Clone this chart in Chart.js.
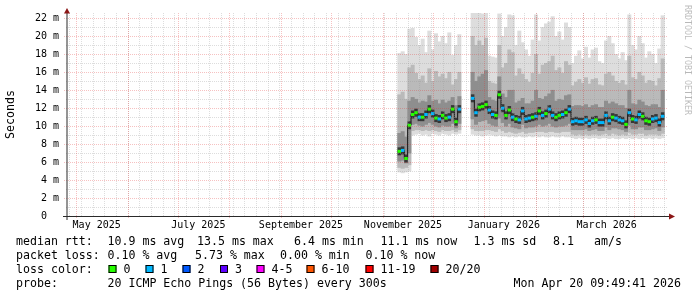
<!DOCTYPE html>
<html>
<head>
<meta charset="utf-8">
<script src="https://cdn.jsdelivr.net/npm/chart.js@4.4.1/dist/chart.umd.min.js"></script>
<style>
  html, body { margin: 0; padding: 0; background: #fff; }
  canvas { display: block; }
</style>
</head>
<body>
<canvas id="smoke" width="697" height="297"></canvas>
<script>
// x values are days counted from 1 May 2025, one sample every two days
const sampleDays = [
  194, 196, 198, 200, 202, 204, 206, 208, 210, 212,
  214, 216, 218, 220, 222, 224, 226, 228, 230, 232,
  234, 236, 238, 240, 242, 244, 246, 248, 250, 252,
  254, 256, 258, 260, 262, 264, 266, 268, 270, 272,
  274, 276, 278, 280, 282, 284, 286, 288, 290, 292,
  294, 296, 298, 300, 302, 304, 306, 308, 310, 312,
  314, 316, 318, 320, 322, 324, 326, 328, 330, 332,
  334, 336, 338, 340, 342, 344, 346, 348, 350, 352
];

// median rtt in ms
const medianRtt = [
  7.2, 7.3, 6.4, 10.1, 11.3, 11.5, 11.0, 11.0, 11.3, 11.9,
  11.4, 10.9, 10.8, 11.2, 10.9, 11.0, 11.9, 10.5, 11.9, null,
  null, null, 13.1, 11.5, 12.1, 12.2, 12.4, 11.8, 11.3, 11.2,
  13.5, 12.0, 11.2, 11.8, 11.0, 10.8, 10.7, 11.7, 10.8, 10.9,
  11.0, 11.1, 11.7, 11.2, 11.4, 11.9, 11.2, 11.0, 11.2, 11.3,
  11.5, 11.9, 10.5, 10.6, 10.5, 10.5, 10.7, 10.3, 10.6, 10.7,
  10.4, 10.4, 11.2, 10.6, 11.0, 10.9, 10.7, 10.6, 10.2, 11.5,
  10.8, 10.7, 11.3, 11.1, 10.6, 10.5, 10.8, 10.9, 10.4, 11.1
];

// lost pings out of 20
const lostPings = [
  0, 1, 0, 0, 0, 0, 1, 0, 1, 0,
  1, 0, 1, 0, 0, 1, 0, 0, 1, null,
  null, null, 1, 1, 0, 0, 0, 1, 1, 0,
  0, 1, 0, 0, 1, 0, 1, 1, 1, 1,
  0, 1, 0, 1, 0, 1, 1, 0, 0, 1,
  0, 1, 1, 1, 1, 1, 1, 1, 1, 0,
  1, 1, 1, 1, 0, 1, 1, 1, 0, 1,
  0, 1, 1, 0, 0, 0, 1, 1, 1, 1
];

// smoke: spread of the 20 pings (ms)
const rttMin = [
  4.9, 4.8, 4.9, 5.0, 9.0, 9.1, 9.2, 9.0, 9.1, 8.9,
  9.2, 9.1, 9.0, 9.2, 9.1, 9.0, 9.2, 9.1, 9.2, null,
  null, null, 9.1, 9.0, 9.0, 8.9, 9.0, 9.1, 9.0, 8.9,
  9.0, 8.9, 8.9, 8.8, 8.9, 8.8, 8.9, 8.8, 8.8, 8.9,
  8.8, 8.9, 8.8, 8.9, 8.8, 8.8, 8.9, 8.8, 8.8, 8.9,
  8.8, 8.8, 8.7, 8.6, 8.7, 8.6, 8.7, 8.6, 8.7, 8.7,
  8.6, 8.7, 8.7, 8.6, 8.7, 8.6, 8.6, 8.7, 8.6, 8.7,
  8.6, 8.7, 8.6, 8.7, 8.6, 8.7, 8.6, 8.7, 8.6, 8.7
];
const rttP10 = [
  5.4, 5.3, 5.4, 5.7, 9.5, 9.6, 9.6, 9.5, 9.6, 9.5,
  9.6, 9.5, 9.4, 9.6, 9.5, 9.5, 9.6, 9.4, 9.6, null,
  null, null, 9.7, 9.5, 9.5, 9.5, 9.6, 9.6, 9.5, 9.4,
  9.7, 9.5, 9.3, 9.4, 9.3, 9.2, 9.3, 9.4, 9.2, 9.3,
  9.3, 9.4, 9.4, 9.4, 9.3, 9.4, 9.4, 9.3, 9.3, 9.4,
  9.4, 9.4, 9.1, 9.0, 9.1, 9.0, 9.1, 9.0, 9.1, 9.1,
  9.0, 9.1, 9.2, 9.0, 9.2, 9.1, 9.0, 9.1, 9.0, 9.3,
  9.1, 9.1, 9.2, 9.2, 9.0, 9.1, 9.1, 9.1, 9.0, 9.2
];
const rttP25 = [
  6.1, 6.2, 5.9, 7.0, 10.2, 10.3, 10.1, 10.0, 10.2, 10.4,
  10.2, 10.0, 9.9, 10.1, 10.0, 10.0, 10.3, 9.8, 10.3, null,
  null, null, 10.8, 10.2, 10.5, 10.6, 10.7, 10.3, 10.1, 10.0,
  10.9, 10.4, 10.0, 10.3, 9.9, 9.8, 9.7, 10.2, 9.8, 9.9,
  9.9, 10.0, 10.2, 10.0, 10.1, 10.3, 10.0, 9.9, 10.0, 10.0,
  10.1, 10.3, 9.6, 9.6, 9.6, 9.6, 9.7, 9.5, 9.6, 9.7,
  9.5, 9.5, 9.9, 9.6, 9.8, 9.8, 9.7, 9.6, 9.4, 10.1,
  9.7, 9.7, 9.9, 9.9, 9.6, 9.6, 9.7, 9.8, 9.5, 9.9
];
const rttP75 = [
  9.2, 9.4, 8.8, 12.8, 13.2, 13.0, 12.6, 12.8, 12.7, 13.4,
  12.8, 12.9, 12.5, 12.9, 12.6, 12.8, 13.2, 12.3, 13.3, null,
  null, null, 16.0, 15.0, 15.5, 15.8, 16.2, 13.2, 12.9, 12.8,
  15.5, 13.6, 13.2, 14.0, 14.0, 12.6, 12.8, 13.1, 12.5, 12.5,
  12.8, 14.0, 13.1, 13.0, 13.3, 13.6, 14.0, 12.8, 13.0, 12.9,
  13.4, 13.5, 12.2, 12.3, 12.3, 12.2, 12.4, 12.1, 12.3, 12.4,
  12.1, 12.1, 12.8, 12.5, 12.7, 12.5, 12.3, 12.3, 12.0, 14.0,
  12.5, 12.4, 12.9, 12.7, 12.3, 12.2, 12.4, 12.4, 12.1, 14.0
];
const rttP90 = [
  13.5, 13.8, 13.0, 16.5, 16.8, 15.9, 15.2, 15.6, 14.8, 16.4,
  15.0, 16.1, 15.5, 15.8, 15.3, 16.0, 14.6, 15.2, 16.0, null,
  null, null, 20.0, 19.0, 19.5, 19.0, 19.8, 15.0, 14.8, 14.7,
  19.0, 16.5, 17.0, 18.5, 18.2, 15.6, 16.4, 15.8, 15.2, 14.9,
  15.9, 18.0, 15.8, 16.8, 17.0, 17.2, 17.8, 16.2, 16.5, 15.9,
  17.2, 16.8, 14.5, 14.9, 15.2, 14.8, 15.4, 14.7, 15.2, 15.3,
  14.6, 14.5, 15.8, 16.0, 15.6, 15.0, 14.8, 15.1, 14.6, 17.8,
  15.4, 15.2, 16.0, 15.6, 14.8, 15.1, 15.0, 14.5, 15.3, 17.5
];
const rttMax = [
  18.1, 18.3, 18.0, 20.8, 20.9, 19.9, 19.0, 19.7, 18.2, 20.6,
  18.5, 20.3, 19.4, 20.0, 19.2, 20.4, 17.9, 19.0, 20.2, null,
  null, null, 23.0, 23.0, 23.0, 22.5, 23.0, 17.8, 17.7, 17.6,
  22.5, 20.0, 21.0, 22.4, 22.3, 19.0, 20.6, 19.3, 18.5, 17.8,
  19.6, 22.4, 19.5, 21.0, 21.4, 21.6, 22.2, 20.0, 20.5, 19.6,
  21.5, 21.0, 17.0, 17.8, 18.4, 17.5, 18.8, 17.6, 18.5, 18.7,
  17.2, 17.0, 19.5, 20.0, 19.2, 18.0, 17.5, 18.2, 17.3, 22.4,
  19.0, 18.5, 20.0, 19.2, 17.6, 18.3, 18.0, 17.0, 18.6, 22.3
];

// axes
const monthLabels = ['May 2025', 'July 2025', 'September 2025', 'November 2025', 'January 2026', 'March 2026'];
const monthLabelDays = [12.4, 73.4, 135, 196.2, 256.7, 318.4];
const monthStartDays = [0, 31, 61, 92, 123, 153, 184, 214, 245, 276, 304, 335];
const yTickValues = [0, 2, 4, 6, 8, 10, 12, 14, 16, 18, 20, 22];

// legend texts
const lossColors = ['#26ff00', '#00b8ff', '#0059ff', '#5e00ff', '#ff00ff', '#ff5500', '#ff0000', '#a00000'];
const lossLabels = ['0', '1', '2', '3', '4-5', '6-10', '11-19', '20/20'];
const rttStats = ['10.9 ms avg', '13.5 ms max', '6.4 ms min', '11.1 ms now', '1.3 ms sd', '8.1', 'am/s'];
const lossStats = ['0.10 % avg', '5.73 % max', '0.00 % min', '0.10 % now'];
const probeText = '20 ICMP Echo Pings (56 Bytes) every 300s';
const stampText = 'Mon Apr 20 09:49:41 2026';

const mono = '"DejaVu Sans Mono", monospace';

function pairs(lo, hi) {
  return hi.map((v, i) => (v == null ? null : [lo[i], v]));
}

// rrdtool style dotted grid, drawn over the smoke
const gridPlugin = {
  id: 'rrdGrid',
  afterDatasetsDraw(chart) {
    const { ctx, chartArea: a, scales: { x, y } } = chart;
    ctx.save();
    ctx.lineWidth = 1;
    ctx.setLineDash([1, 1]);

    ctx.strokeStyle = 'rgba(150,150,150,0.32)';
    ctx.beginPath();
    for (let v = 1; v < 23; v += 2) {
      const py = Math.round(y.getPixelForValue(v)) + 0.5;
      ctx.moveTo(a.left - 1, py);
      ctx.lineTo(a.right, py);
    }
    for (let d = -4; d < 355; d += 7) { // sundays
      const px = Math.round(x.getPixelForValue(d)) + 0.5;
      if (px <= a.left + 1) continue;
      ctx.moveTo(px, a.top);
      ctx.lineTo(px, a.bottom + 1);
    }
    ctx.stroke();

    ctx.strokeStyle = 'rgba(225,50,50,0.3)';
    ctx.beginPath();
    yTickValues.slice(1).forEach(v => {
      const py = Math.round(y.getPixelForValue(v)) + 0.5;
      ctx.moveTo(a.left - 3, py);
      ctx.lineTo(a.right, py);
    });
    monthStartDays.forEach(d => {
      const px = Math.round(x.getPixelForValue(d)) + 0.5;
      ctx.moveTo(px, a.top);
      ctx.lineTo(px, a.bottom + 3);
    });
    ctx.stroke();
    ctx.restore();
  }
};

const axisPlugin = {
  id: 'rrdAxis',
  afterDraw(chart) {
    const { ctx, chartArea: a } = chart;
    const left = Math.round(a.left), bottom = Math.round(a.bottom);
    ctx.save();
    ctx.lineWidth = 1;
    ctx.strokeStyle = '#2a2a2a';
    ctx.beginPath();
    ctx.moveTo(a.left - 4, bottom + 0.5);
    ctx.lineTo(a.right + 2, bottom + 0.5);
    ctx.moveTo(left, bottom + 4);
    ctx.lineTo(left, a.top);
    ctx.stroke();

    ctx.fillStyle = '#8c1616';
    ctx.beginPath();
    ctx.moveTo(left, a.top - 5);
    ctx.lineTo(left - 3, a.top + 0.5);
    ctx.lineTo(left + 3, a.top + 0.5);
    ctx.closePath();
    ctx.fill();
    ctx.beginPath();
    ctx.moveTo(a.right + 8, bottom + 0.5);
    ctx.lineTo(a.right + 2, bottom - 2.5);
    ctx.lineTo(a.right + 2, bottom + 3.5);
    ctx.closePath();
    ctx.fill();

    // watermark
    ctx.fillStyle = 'rgba(0,0,0,0.28)';
    ctx.font = '8.3px ' + mono;
    ctx.textBaseline = 'middle';
    ctx.translate(687.5, 5);
    ctx.rotate(Math.PI / 2);
    ctx.fillText('RRDTOOL / TOBI OETIKER', 0, 0);
    ctx.restore();
  }
};

const legendPlugin = {
  id: 'rrdLegend',
  afterDraw(chart) {
    const ctx = chart.ctx;
    ctx.save();
    ctx.font = '11.6px ' + mono;
    ctx.fillStyle = '#000';
    ctx.textBaseline = 'middle';
    ctx.textAlign = 'left';

    const rows = [241.5, 255.5, 269.5, 283.5];
    ctx.fillText('median rtt:', 16, rows[0]);
    [107.5, 197, 294, 380.5, 473.5, 553, 594].forEach((px, i) => ctx.fillText(rttStats[i], px, rows[0]));

    ctx.fillText('packet loss:', 16, rows[1]);
    [107.5, 195, 280, 365.5].forEach((px, i) => ctx.fillText(lossStats[i], px, rows[1]));

    ctx.fillText('loss color:', 16, rows[2]);
    [108.5, 145.5, 182.5, 220, 256.5, 306.5, 365.5, 430.5].forEach((px, i) => {
      ctx.fillStyle = lossColors[i];
      ctx.fillRect(px, rows[2] - 4.5, 8, 8);
      ctx.strokeStyle = '#000';
      ctx.lineWidth = 1;
      ctx.strokeRect(px + 0.5, rows[2] - 4, 7, 7);
      ctx.fillStyle = '#000';
      ctx.fillText(lossLabels[i], px + 15, rows[2]);
    });

    ctx.fillText('probe:', 16, rows[3]);
    ctx.fillText(probeText, 107.5, rows[3]);
    ctx.textAlign = 'right';
    ctx.fillText(stampText, 681, rows[3]);
    ctx.restore();
  }
};

const barStyle = { grouped: false, barPercentage: 1, categoryPercentage: 1, borderWidth: 0 };

new Chart(document.getElementById('smoke'), {
  type: 'bar',
  data: {
    labels: sampleDays,
    datasets: [
      {
        type: 'line', label: 'median rtt', data: medianRtt, order: 0,
        showLine: false, pointStyle: 'line', pointRadius: 1.75, pointBorderWidth: 3,
        pointBorderColor: lostPings.map(l => (l == null ? 'transparent' : lossColors[l])),
        pointHoverRadius: 1.75
      },
      {
        type: 'line', label: 'median core', data: medianRtt, order: 1,
        stepped: 'middle', borderColor: '#111', borderWidth: 1,
        pointStyle: 'line', pointRadius: 1.75, pointBorderWidth: 8,
        pointBorderColor: 'rgba(40,40,40,0.85)', pointHoverRadius: 1.75
      },
      Object.assign({ label: 'p25-p75', data: pairs(rttP25, rttP75), backgroundColor: '#8e8e8e', order: 2 }, barStyle),
      Object.assign({ label: 'p10-p90', data: pairs(rttP10, rttP90), backgroundColor: '#bababa', order: 3 }, barStyle),
      Object.assign({ label: 'min-max', data: pairs(rttMin, rttMax), backgroundColor: '#dddddd', order: 4 }, barStyle)
    ]
  },
  options: {
    responsive: false,
    animation: false,
    devicePixelRatio: 1,
    layout: { padding: { top: 13, right: 30, left: 0, bottom: 0 } },
    plugins: { legend: { display: false }, tooltip: { enabled: false } },
    scales: {
      x: {
        type: 'linear', min: -5.4, max: 354.6, offset: false,
        grid: { display: false, drawTicks: false },
        border: { display: false },
        afterBuildTicks: s => { s.ticks = monthLabelDays.map(v => ({ value: v })); },
        afterFit: s => { s.height = 81; s.paddingLeft = 0; s.paddingRight = 0; },
        ticks: {
          autoSkip: false, maxRotation: 0, padding: 3, color: '#000',
          font: { family: mono, size: 10 },
          callback: (v, i) => monthLabels[i]
        }
      },
      y: {
        min: 0, max: 22.6,
        grid: { display: false, drawTicks: false },
        border: { display: false },
        afterBuildTicks: s => { s.ticks = yTickValues.map(v => ({ value: v })); },
        afterFit: s => { s.width = 67; s.paddingTop = 0; s.paddingBottom = 0; },
        ticks: {
          padding: 8, color: '#000',
          font: { family: mono, size: 10 },
          callback: v => (v === 0 ? '0  ' : v + ' m')
        },
        title: {
          display: true, text: 'Seconds', color: '#000',
          font: { family: mono, size: 11.6 }, padding: { top: 4, bottom: 4 }
        }
      }
    }
  },
  plugins: [gridPlugin, axisPlugin, legendPlugin]
});
</script>
</body>
</html>
